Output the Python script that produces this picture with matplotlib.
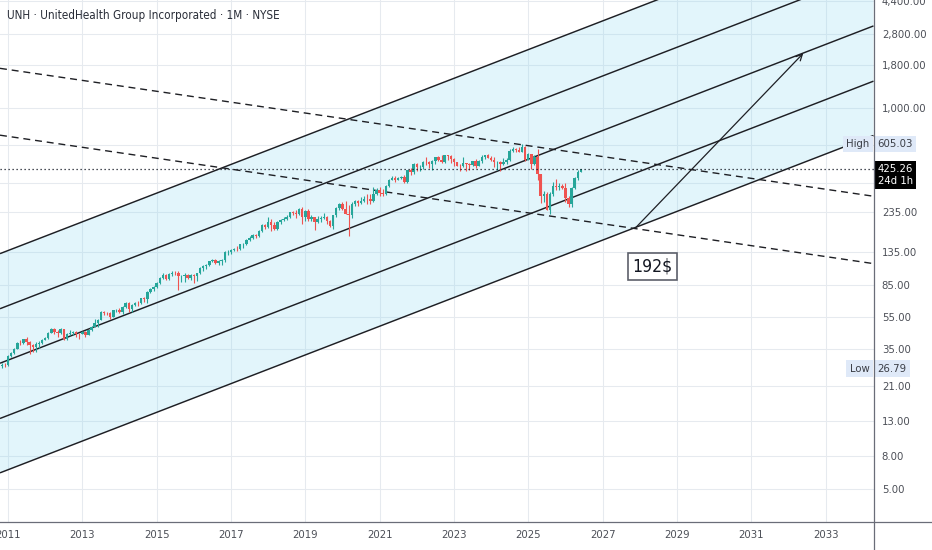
import matplotlib
matplotlib.use("Agg")
import os
import matplotlib.pyplot as plt
import matplotlib.transforms as mtransforms
from matplotlib.lines import Line2D
from matplotlib import font_manager as fm
import pandas as pd

# ---------------- data (monthly candles, dividend-adjusted) ----------------
first_month = "2010-10"
first_open = 27.2

close_2010 = [27.9, 28.2, 28.0]
high_2010 = [28.4, 29.0, 28.9]
low_2010 = [26.79, 27.0, 27.3]

close_2011 = [32.0, 33.2, 35.3, 38.4, 38.1, 40.3, 39.0, 37.3, 36.2, 37.7, 38.4, 39.9]
high_2011 = [32.3, 33.6, 35.6, 38.8, 39.6, 40.6, 41.4, 39.4, 37.9, 38.6, 39.2, 40.2]
low_2011 = [27.9, 31.5, 32.8, 35.2, 37.0, 37.6, 37.4, 32.8, 33.5, 33.8, 35.6, 37.6]

close_2012 = [40.9, 44.1, 46.6, 44.4, 44.1, 46.3, 40.5, 43.1, 44.0, 44.5, 43.2, 43.1]
high_2012 = [41.5, 44.5, 47.2, 47.0, 45.5, 47.0, 46.7, 43.8, 45.5, 45.4, 45.0, 44.0]
low_2012 = [39.6, 40.6, 43.6, 43.5, 41.7, 43.4, 39.6, 40.0, 42.4, 42.9, 41.7, 40.6]

close_2013 = [44.2, 42.8, 45.8, 48.0, 50.2, 52.5, 58.6, 58.1, 57.6, 55.0, 60.0, 60.7]
high_2013 = [45.3, 45.4, 46.0, 48.4, 53.0, 53.3, 59.2, 59.5, 59.0, 58.5, 60.3, 61.0]
low_2013 = [43.1, 41.8, 42.6, 44.9, 47.9, 47.8, 52.3, 56.6, 56.3, 53.0, 54.8, 58.6]

close_2014 = [58.9, 63.0, 66.9, 61.2, 64.9, 66.8, 66.3, 70.9, 70.7, 77.9, 80.9, 82.9]
high_2014 = [62.0, 63.5, 67.6, 67.7, 65.5, 67.8, 68.7, 71.1, 72.0, 78.3, 81.5, 84.1]
low_2014 = [57.7, 57.5, 62.3, 58.8, 58.6, 63.8, 64.0, 65.3, 67.8, 66.8, 76.3, 78.2]

close_2015 = [88.2, 94.4, 98.2, 92.9, 99.9, 101.4, 101.1, 96.4, 96.7, 98.3, 94.1, 98.2]
high_2015 = [89.6, 95.0, 100.5, 99.5, 101.0, 104.1, 104.4, 103.2, 98.5, 100.6, 99.5, 99.4]
low_2015 = [81.5, 86.5, 93.4, 91.0, 91.9, 96.9, 98.0, 79.8, 89.2, 88.8, 92.6, 91.6]

close_2016 = [97.1, 100.5, 108.8, 111.3, 113.1, 119.6, 121.4, 115.4, 118.9, 120.1, 134.6, 136.0]
high_2016 = [98.9, 101.0, 109.3, 112.5, 115.0, 120.0, 123.3, 121.8, 120.3, 121.8, 136.7, 139.3]
low_2016 = [88.1, 90.9, 99.4, 103.9, 106.9, 110.6, 116.9, 114.1, 112.8, 112.4, 117.7, 130.2]

close_2017 = [138.9, 141.8, 140.7, 150.1, 150.5, 159.4, 165.1, 171.3, 168.9, 181.4, 196.9, 190.3]
high_2017 = [140.3, 143.3, 147.0, 150.5, 153.8, 161.4, 168.0, 172.6, 173.7, 183.2, 198.7, 199.8]
low_2017 = [131.3, 137.4, 136.7, 139.7, 143.8, 148.9, 157.8, 161.9, 163.8, 166.6, 177.5, 185.6]

close_2018 = [206.0, 196.8, 186.4, 206.0, 210.6, 214.0, 221.0, 234.5, 232.5, 228.6, 246.3, 218.2]
high_2018 = [218.6, 213.4, 205.6, 208.4, 214.4, 220.1, 225.9, 235.0, 237.4, 243.1, 249.6, 250.9]
low_2018 = [189.0, 181.0, 182.5, 183.3, 199.2, 206.5, 210.3, 217.7, 226.0, 216.5, 225.7, 200.5]

close_2019 = [238.9, 214.2, 218.8, 206.3, 214.1, 216.2, 220.8, 207.6, 192.9, 224.5, 248.9, 261.6]
high_2019 = [241.1, 244.9, 226.0, 220.3, 221.5, 222.6, 231.5, 222.8, 211.5, 227.2, 251.1, 266.9]
low_2019 = [208.5, 209.0, 206.5, 184.6, 202.4, 205.0, 214.3, 198.7, 190.2, 186.0, 219.0, 243.1]

close_2020 = [245.0, 229.3, 224.3, 263.2, 274.5, 265.7, 272.9, 282.0, 281.4, 275.5, 304.1, 317.4]
high_2020 = [270.0, 275.0, 259.0, 271.4, 277.1, 279.0, 290.8, 292.7, 300.6, 301.8, 332.2, 330.7]
low_2020 = [242.1, 228.0, 168.8, 216.7, 254.8, 256.9, 261.3, 271.0, 262.9, 263.1, 272.0, 298.1]

close_2021 = [304.6, 303.4, 340.0, 364.6, 376.8, 366.6, 377.5, 381.6, 358.3, 422.6, 407.8, 461.1]
high_2021 = [333.0, 323.5, 342.6, 374.7, 388.5, 388.9, 384.9, 389.9, 392.3, 424.0, 436.1, 463.5]
low_2021 = [293.3, 292.4, 297.8, 335.2, 364.6, 359.1, 365.9, 374.0, 352.5, 350.3, 394.0, 398.6]

close_2022 = [437.6, 440.8, 472.6, 471.5, 460.8, 476.6, 503.5, 482.4, 469.4, 516.3, 509.6, 493.1]
high_2022 = [465.0, 453.0, 477.5, 503.0, 476.3, 485.5, 508.5, 511.3, 517.8, 517.0, 520.5, 522.3]
low_2022 = [417.0, 418.0, 425.3, 453.0, 433.5, 424.1, 458.8, 478.4, 461.9, 461.8, 483.0, 464.8]

close_2023 = [468.3, 446.7, 443.7, 462.3, 457.9, 452.0, 476.6, 448.9, 475.2, 505.1, 521.7, 497.0]
high_2023 = [495.2, 472.5, 461.1, 507.0, 465.2, 463.4, 478.5, 491.6, 482.4, 517.3, 522.0, 524.0]
low_2023 = [445.6, 443.0, 418.4, 442.1, 417.1, 423.0, 447.1, 436.2, 445.2, 465.0, 494.8, 495.9]

close_2024 = [487.1, 470.0, 471.3, 461.1, 472.5, 486.1, 550.2, 563.9, 559.0, 540.0, 584.0, 484.7]
high_2024 = [513.0, 503.0, 475.5, 480.5, 500.6, 495.0, 563.5, 579.4, 575.5, 583.3, 605.03, 589.0]
low_2024 = [479.0, 442.8, 420.0, 418.0, 453.0, 458.4, 478.6, 537.9, 542.3, 539.0, 538.4, 479.0]

close_2025 = [523.5, 458.9, 506.8, 398.8, 293.3, 303.6, 243.2, 302.5, 337.7, 334.5, 340.0, 330.0]
high_2025 = [534.5, 526.5, 518.0, 565.0, 401.0, 313.0, 311.5, 310.5, 358.6, 370.8, 350.0, 345.0]
low_2025 = [483.0, 427.7, 454.2, 369.0, 266.0, 269.7, 241.0, 229.0, 296.0, 321.0, 318.0, 322.0]

close_2026 = [285.0, 262.0, 330.0, 376.0, 412.0, 425.26]
high_2026 = [350.0, 292.0, 335.0, 385.0, 420.0, 428.0]
low_2026 = [270.0, 252.0, 254.0, 325.0, 368.0, 408.0]

last_price = 425.26
last_label = "425.26\n24d 1h"
high_value, high_text = 605.03, "605.03"
low_value, low_text = 26.79, "26.79"

# channel (5 parallel lines), given at the two edges of the visible time range
edge_years = [2010.785, 2034.29]
channel_lines = [
    [132.1, 14276.0],
    [61.5, 6646.0],
    [28.85, 3117.0],
    [13.40, 1448.0],
    [6.30, 680.8],
]
dashed_lines = [
    [1730.0, 293.0],
    [684.0, 115.0],
]
arrow_start = (2027.91, 191.4)
arrow_end = (2032.40, 2131.0)
target_text = "192$"
target_pos = (2028.34, 110.9)

year_ticks = [2011, 2013, 2015, 2017, 2019, 2021, 2023, 2025, 2027, 2029, 2031, 2033]
price_ticks = [4400, 2800, 1800, 1000, 600, 351, 235, 135, 85, 55, 35, 21, 13, 8, 5]
price_tick_labels = ["4,400.00", "2,800.00", "1,800.00", "1,000.00", "", "", "235.00",
                     "135.00", "85.00", "55.00", "35.00", "21.00", "13.00", "8.00", "5.00"]
title = "UNH · UnitedHealth Group Incorporated · 1M · NYSE"

# ---------------- assemble ----------------
closes = (close_2010 + close_2011 + close_2012 + close_2013 + close_2014 + close_2015 +
          close_2016 + close_2017 + close_2018 + close_2019 + close_2020 + close_2021 +
          close_2022 + close_2023 + close_2024 + close_2025 + close_2026)
highs = (high_2010 + high_2011 + high_2012 + high_2013 + high_2014 + high_2015 +
         high_2016 + high_2017 + high_2018 + high_2019 + high_2020 + high_2021 +
         high_2022 + high_2023 + high_2024 + high_2025 + high_2026)
lows = (low_2010 + low_2011 + low_2012 + low_2013 + low_2014 + low_2015 +
        low_2016 + low_2017 + low_2018 + low_2019 + low_2020 + low_2021 +
        low_2022 + low_2023 + low_2024 + low_2025 + low_2026)
opens = [first_open] + closes[:-1]
months = pd.period_range(first_month, periods=len(closes), freq="M")
xs = [p.year + (p.month - 1) / 12.0 for p in months]

# ---------------- fonts: prefer a narrow/condensed sans ----------------
def pick_font_path():
    files = fm.findSystemFonts()
    prefs = ["LiberationSansNarrow-Regular", "DejaVuSansCondensed.ttf", "Roboto-Regular",
             "LiberationSans-Regular"]
    for p in prefs:
        for f in files:
            if os.path.basename(f).startswith(p.replace(".ttf", "")) and f.lower().endswith(".ttf") \
                    and "bold" not in f.lower() and "oblique" not in f.lower():
                return f
    return None

fpath = pick_font_path()

def FP(size):
    if fpath:
        return fm.FontProperties(fname=fpath, size=size)
    return fm.FontProperties(family="DejaVu Sans", size=size)

UP, DOWN = "#26a69a", "#ef5350"
LINE = "#1e1f24"
TXT = "#4c4f57"

fig = plt.figure(figsize=(9.32, 5.5), dpi=100)
W, H = 932.0, 550.0

# scale font sizes so the title is ~272 px wide, as in the reference
probe = fig.text(0, 0, title, fontproperties=FP(10))
fig.canvas.draw()
wpx = probe.get_window_extent().width
probe.remove()
k = min(1.0, 272.0 / wpx) if wpx > 0 else 1.0
k = max(k, 0.80)

ax = fig.add_axes([0, 1 - 521.5 / H, 873.5 / W, 521.5 / H])
ax.set_yscale("log")
ax.set_xlim(2010.785, 2034.29)
ax.set_ylim(3.206, 4467)

for s in ax.spines.values():
    s.set_visible(False)

TS = 9.7 * k
ax.set_xticks(year_ticks)
ax.set_xticklabels([str(y) for y in year_ticks])
ax.yaxis.tick_right()
ax.set_yticks(price_ticks)
ax.set_yticklabels(price_tick_labels)
ax.minorticks_off()
ax.tick_params(axis="x", length=0, pad=6, colors=TXT)
ax.tick_params(axis="y", length=0, pad=6, colors=TXT)
for lab in ax.get_xticklabels() + ax.get_yticklabels():
    lab.set_fontproperties(FP(TS))
ax.grid(True, color="#e6eaef", lw=0.75)
ax.set_axisbelow(True)

# channel fill + lines
ax.fill_between(edge_years, channel_lines[0], channel_lines[-1],
                color=(0.55, 0.85, 0.95), alpha=0.25, lw=0, zorder=1)
for ln in channel_lines:
    ax.plot(edge_years, ln, color=LINE, lw=1.05, zorder=2, solid_capstyle="butt")
for ln in dashed_lines:
    ax.plot(edge_years, ln, color=LINE, lw=1.0, ls=(0, (5, 3.5)), zorder=2)

# candles
col = [UP if c >= o else DOWN for o, c in zip(opens, closes)]
ax.vlines(xs, lows, highs, colors=col, lw=0.8, zorder=3)
bottoms = [min(o, c) for o, c in zip(opens, closes)]
heights = [max(abs(c - o), 0.004 * c) for o, c in zip(opens, closes)]
ax.bar(xs, heights, bottom=bottoms, width=0.066, color=col, lw=0, zorder=3.1)

# current price dotted line
ax.axhline(last_price, color="#131722", lw=0.9, ls=(0, (1, 2.2)), zorder=4)

# arrow and target box
ax.annotate("", xy=arrow_end, xytext=arrow_start,
            arrowprops=dict(arrowstyle="->", color=LINE, lw=0.9, shrinkA=0, shrinkB=0,
                            mutation_scale=11), zorder=5)
ax.text(target_pos[0], target_pos[1], target_text, ha="center", va="center",
        fontproperties=FP(15 * k), color="#131722", zorder=6,
        bbox=dict(boxstyle="square,pad=0.25", fc="white", ec="#5d606b", lw=1.2))

# right-axis labels
ytr = ax.get_yaxis_transform()
xr = 1 + 4 / 873.5
LB = "#dfe9f8"
for val, txt, side in [(high_value, high_text, "High"), (low_value, low_text, "Low")]:
    ax.text(xr, val, txt, transform=ytr, ha="left", va="center", fontproperties=FP(TS),
            color="#3a3d45", clip_on=False, zorder=10,
            bbox=dict(boxstyle="square,pad=0.3", fc=LB, ec="none"))
    ax.text(1 - 4 / 873.5, val, side, transform=ytr, ha="right", va="center",
            fontproperties=FP(TS), color="#3a3d45", clip_on=False, zorder=10,
            bbox=dict(boxstyle="square,pad=0.3", fc=LB, ec="none"))
off = mtransforms.offset_copy(ytr, fig=fig, x=0, y=5.5 * 72 / 100, units="points")
ax.text(xr, last_price, last_label, transform=off, ha="left", va="top", fontproperties=FP(TS),
        color="white", linespacing=1.25, clip_on=False, zorder=10,
        bbox=dict(boxstyle="square,pad=0.3", fc="#000000", ec="none"))

# frame lines (price scale / time scale separators)
fig.add_artist(Line2D([873.5 / W] * 2, [0, 1], transform=fig.transFigure, color="#6a6d78", lw=0.9))
fig.add_artist(Line2D([0, 1], [1 - 521.5 / H] * 2, transform=fig.transFigure, color="#6a6d78", lw=0.9))

fig.text(7 / W, 1 - 16 / H, title, ha="left", va="center", fontproperties=FP(10 * k),
         color="#2a2e39")

fig.savefig("out.png", dpi=100)
